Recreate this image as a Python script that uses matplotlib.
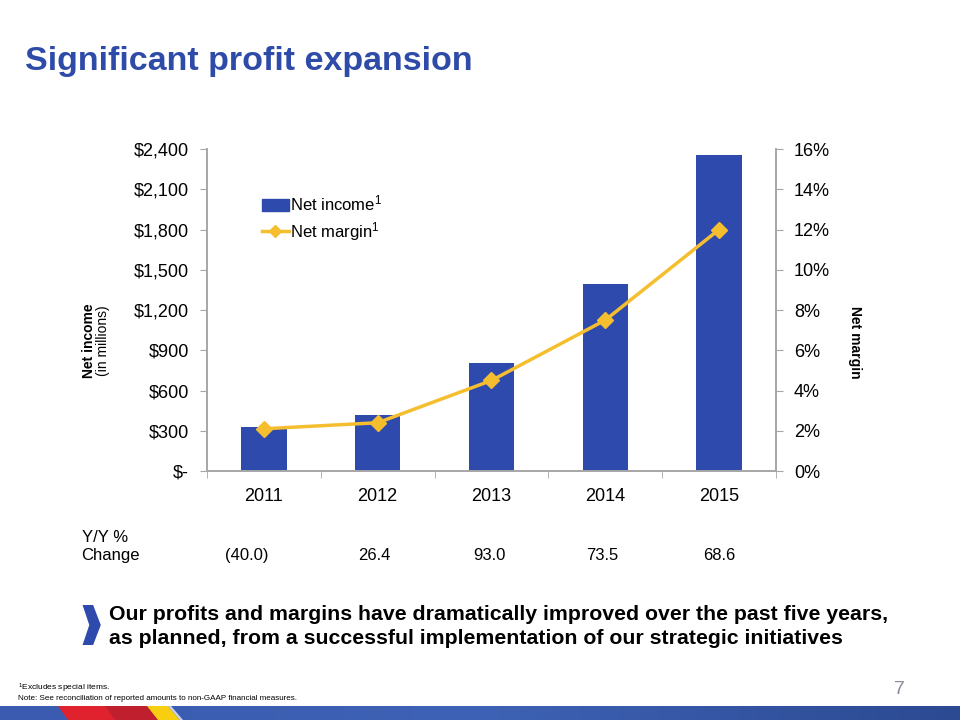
import matplotlib
matplotlib.use("Agg")
import matplotlib.pyplot as plt
import numpy as np
from matplotlib.patches import Polygon, Patch
from matplotlib.lines import Line2D
from matplotlib.colors import LinearSegmentedColormap

plt.rcParams['font.family'] = ['Liberation Sans', 'DejaVu Sans']
plt.rcParams['mathtext.fontset'] = 'custom'
plt.rcParams['mathtext.rm'] = 'Liberation Sans'
plt.rcParams['mathtext.default'] = 'regular'

years = ["2011", "2012", "2013", "2014", "2015"]
net_income = [330, 417, 805, 1396, 2358]
net_margin = [2.1, 2.4, 4.5, 7.5, 12.0]
yoy_change = ["(40.0)", "26.4", "93.0", "73.5", "68.6"]
income_ticks = [0, 300, 600, 900, 1200, 1500, 1800, 2100, 2400]
income_tick_labels = [r"\$-", r"\$300", r"\$600", r"\$900", r"\$1,200", r"\$1,500", r"\$1,800", r"\$2,100", r"\$2,400"]
margin_ticks = [0, 2, 4, 6, 8, 10, 12, 14, 16]
margin_tick_labels = ["0%", "2%", "4%", "6%", "8%", "10%", "12%", "14%", "16%"]

BLUE = "#2F4AAD"
YELLOW = "#F4BE2F"
GRAY = "#A6A6A6"
TITLE_BLUE = "#2E4BA8"

fig = plt.figure(figsize=(9.6, 7.2), dpi=100)
fig.patch.set_facecolor("white")

ax = fig.add_axes([0.2156, 0.3458, 0.5927, 0.4472])
x = np.arange(len(years))
ax.bar(x, net_income, width=0.4, color=BLUE, zorder=2)
ax.set_xlim(-0.5, len(years) - 0.5)
ax.set_ylim(0, 2400)
ax.set_yticks(income_ticks)
ax.set_yticklabels(income_tick_labels, fontsize=13)
ax.set_xticks(x)
ax.set_xticklabels(years, fontsize=13)
ax.tick_params(axis='x', length=0, pad=12)
ax.set_xticks(np.arange(-0.5, len(years)), minor=True)
ax.tick_params(axis='x', which='minor', length=5, color=GRAY, direction='out')
ax.tick_params(axis='y', length=5, color=GRAY, direction='out', pad=8)
ax.spines['top'].set_visible(False)
for s in ['left', 'bottom', 'right']:
    ax.spines[s].set_color(GRAY)
    ax.spines[s].set_linewidth(1.2)

ax2 = ax.twinx()
ax2.plot(x, net_margin, color=YELLOW, lw=2.5, marker='D', markersize=8, zorder=3)
ax2.set_ylim(0, 16)
ax2.set_yticks(margin_ticks)
ax2.set_yticklabels(margin_tick_labels, fontsize=13)
ax2.tick_params(axis='y', length=5, color=GRAY, direction='out', pad=8)
ax2.spines['top'].set_visible(False)
for s in ['left', 'bottom', 'right']:
    ax2.spines[s].set_color(GRAY)
    ax2.spines[s].set_linewidth(1.2)

# axis titles
fig.text(0.093, 0.527, "Net income", rotation=90, fontsize=10, fontweight='bold',
         ha='center', va='center')
fig.text(0.107, 0.527, "(in millions)", rotation=90, fontsize=10,
         ha='center', va='center')
fig.text(0.891, 0.524, "Net margin", rotation=-90, fontsize=10, fontweight='bold',
         ha='center', va='center')

# legend
handles = [Patch(facecolor=BLUE, edgecolor=BLUE),
           Line2D([0], [0], color=YELLOW, lw=2.5, marker='D', markersize=6)]
labels = ["Net income$^{1}$", "Net margin$^{1}$"]
ax2.legend(handles, labels, loc='upper left', bbox_to_anchor=(0.085, 0.882),
           frameon=False, fontsize=12, handlelength=1.6, handletextpad=0.1,
           labelspacing=0.36, borderaxespad=0)

# title
fig.text(0.026, 1 - 70/720, "Significant profit expansion", fontsize=24.5, fontweight='bold',
         color=TITLE_BLUE, ha='left', va='baseline')

# Y/Y change row
fig.text(0.085, 0.254, "Y/Y %", fontsize=12, ha='left', va='center')
fig.text(0.085, 0.229, "Change", fontsize=12, ha='left', va='center')
offsets = [-0.15, -0.03, -0.02, -0.03, 0.0]
for i, lab in enumerate(yoy_change):
    xd = i + offsets[i]
    xf = fig.transFigure.inverted().transform(ax.transData.transform((xd, 0)))[0]
    fig.text(xf, 0.229, lab, fontsize=12, ha='center', va='center')

# chevron
chev = Polygon([[0.086, 1 - 645/720], [0.097, 1 - 645/720], [0.105, 1 - 625/720],
                [0.097, 1 - 605/720], [0.086, 1 - 605/720], [0.093, 1 - 625/720]],
               closed=True, transform=fig.transFigure, facecolor=BLUE, edgecolor='none')
fig.patches.append(chev)
fig.text(0.114, 1 - 614/720, "Our profits and margins have dramatically improved over the past five years,",
         fontsize=15.3, fontweight='bold', ha='left', va='center')
fig.text(0.114, 1 - 638/720, "as planned, from a successful implementation of our strategic initiatives",
         fontsize=15.3, fontweight='bold', ha='left', va='center')

# footnotes
fig.text(0.019, 1 - 688/720, "$^{1}$Excludes special items.", fontsize=6, ha='left', va='center')
fig.text(0.019, 1 - 698/720, "Note: See reconciliation of reported amounts to non-GAAP financial measures.",
         fontsize=5.8, ha='left', va='center')
fig.text(0.937, 1 - 689/720, "7", fontsize=14, color="#8C8C9C", ha='center', va='center')

# footer band
fax = fig.add_axes([0, 0, 1, 14/720])
fax.axis('off')
grad = np.linspace(0, 1, 256)[None, :]
cmap = LinearSegmentedColormap.from_list("band", ["#3A5BB0", "#3E62B5", "#2C4A92"])
fax.imshow(grad, extent=[0, 960, 14, 0], aspect='auto', cmap=cmap)
fax.add_patch(Polygon([[58, 0], [147, 0], [158, 14], [68, 14]], facecolor="#E0222E", edgecolor='none'))
fax.add_patch(Polygon([[105, 0], [147, 0], [158, 14], [115, 14]], facecolor="#B8202F", edgecolor='none', alpha=0.8))
fax.add_patch(Polygon([[147, 0], [168, 0], [180, 14], [158, 14]], facecolor="#F7CF10", edgecolor='none'))
fax.add_patch(Polygon([[168, 0], [171, 0], [183, 14], [180, 14]], facecolor="#C9D3EA", edgecolor='none'))
fax.set_xlim(0, 960)
fax.set_ylim(14, 0)

fig.savefig("out.png", dpi=100)
